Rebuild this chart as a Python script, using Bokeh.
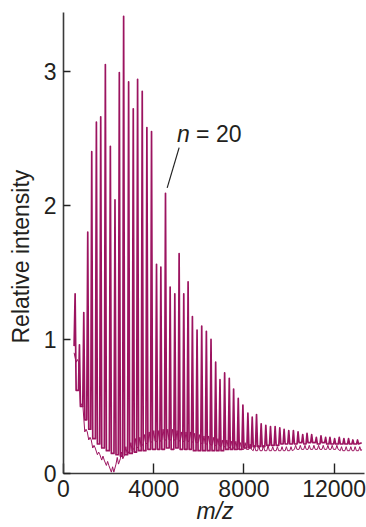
from bokeh.plotting import figure
from bokeh.models import Label, Range1d, FixedTicker, Title
from bokeh.embed import file_html
from bokeh.resources import INLINE

# ---------------- data ----------------
# trace A: oligomer peak positions (m/z), apex heights and valley heights after each peak
peak_mz = [515, 707, 899, 1075, 1252, 1458, 1650, 1856, 2077, 2283,
           2475, 2666, 2887, 3093, 3285, 3491, 3697, 3903, 4124, 4316,
           4522, 4728, 4935, 5126, 5332, 5524, 5715, 5921, 6128, 6334,
           6540, 6746, 6938, 7144, 7350, 7542, 7748, 7954, 8175, 8367,
           8558, 8764, 8970, 9177, 9383, 9589, 9781, 9987, 10193, 10399,
           10606, 10797, 11003, 11210, 11416, 11622, 11813, 12020, 12226, 12432,
           12638, 12830, 13036]
peak_h = [1.34, 0.96, 1.20, 1.80, 2.40, 2.62, 2.66, 3.05, 2.44, 2.04,
          2.99, 3.41, 2.92, 2.72, 2.94, 2.85, 2.58, 2.55, 1.56, 1.54,
          2.09, 1.39, 1.34, 1.64, 1.34, 1.43, 1.17, 1.07, 1.10, 1.06,
          1.00, 0.83, 0.70, 0.75, 0.71, 0.63, 0.56, 0.51, 0.45, 0.42,
          0.44, 0.37, 0.36, 0.35, 0.35, 0.34, 0.33, 0.32, 0.32, 0.31,
          0.29, 0.30, 0.29, 0.27, 0.28, 0.27, 0.27, 0.26, 0.27, 0.26,
          0.26, 0.25, 0.25]
valley_a = [0.62, 0.50, 0.40, 0.33, 0.26, 0.22, 0.19, 0.17, 0.15, 0.14,
            0.13, 0.14, 0.15, 0.16, 0.17, 0.17, 0.18, 0.18, 0.18, 0.18,
            0.19, 0.18, 0.19, 0.18, 0.18, 0.18, 0.17, 0.17, 0.17, 0.17,
            0.17, 0.17, 0.17, 0.18, 0.18, 0.18, 0.18, 0.19, 0.19, 0.20,
            0.20, 0.20, 0.21, 0.21, 0.21, 0.22, 0.22, 0.22, 0.22, 0.23,
            0.22, 0.23, 0.23, 0.22, 0.23, 0.22, 0.22, 0.22, 0.22, 0.22,
            0.22, 0.22, 0.22]
a_start = [470, 0.95]
a_end = [13220, 0.23]

# trace B: lower baseline and small ripple heights at the same oligomer spacing
base_b = [0.83, 0.50, 0.31, 0.25, 0.19, 0.14, 0.10, 0.06, 0.01, 0.07,
          0.11, 0.14, 0.17, 0.19, 0.20, 0.22, 0.23, 0.24, 0.24, 0.25,
          0.25, 0.25, 0.25, 0.24, 0.24, 0.24, 0.23, 0.23, 0.22, 0.22,
          0.21, 0.21, 0.20, 0.20, 0.19, 0.19, 0.18, 0.18, 0.18, 0.17,
          0.17, 0.17, 0.17, 0.17, 0.17, 0.17, 0.17, 0.17, 0.18, 0.18,
          0.18, 0.18, 0.18, 0.18, 0.18, 0.18, 0.18, 0.18, 0.17, 0.17,
          0.17, 0.17, 0.17]
ripple_b = [0.02, 0.02, 0.02, 0.02, 0.02, 0.02, 0.03, 0.03, 0.04, 0.05,
            0.05, 0.06, 0.06, 0.07, 0.07, 0.07, 0.08, 0.08, 0.08, 0.08,
            0.08, 0.08, 0.07, 0.07, 0.07, 0.07, 0.07, 0.06, 0.06, 0.06,
            0.06, 0.05, 0.05, 0.05, 0.05, 0.05, 0.05, 0.05, 0.04, 0.04,
            0.04, 0.04, 0.04, 0.03, 0.03, 0.03, 0.03, 0.03, 0.03, 0.03,
            0.03, 0.03, 0.03, 0.03, 0.03, 0.03, 0.03, 0.03, 0.03, 0.03,
            0.03, 0.03, 0.03]
b_start = [470, 0.90]
b_end = [13220, 0.18]

x_ticks = [0, 4000, 8000, 12000]
y_ticks = [0, 1, 2, 3]
label_index = 20
label_text_n = "n"
label_text_rest = "= 20"
x_title = "m/z"
y_title = "Relative intensity"

# ---------------- build line coordinates ----------------
RISE, FALL = 45, 45
ax, ay = [a_start[0]], [a_start[1]]
prev = a_start[1]
for m, h, v in zip(peak_mz, peak_h, valley_a):
    ax += [m - RISE, m, m + FALL]
    ay += [prev, h, v]
    prev = v
ax.append(a_end[0]); ay.append(a_end[1])

SHIFT, HW = 100, 55
bx, by = [b_start[0]], [b_start[1]]
for m, b, r in zip(peak_mz, base_b, ripple_b):
    c = m + SHIFT
    bx += [c - HW, c, c + HW]
    by += [b, b + r, b]
bx.append(b_end[0]); by.append(b_end[1])

COLOR = "#9c1460"
FONT = "Liberation Sans"
FS = "23px"
TXT = "#231f20"

p = figure(width=366, height=527, output_backend="svg", toolbar_location=None,
           x_range=Range1d(0, 13345), y_range=Range1d(0, 3.438),
           min_border_left=62, min_border_right=2, min_border_top=12,
           min_border_bottom=54)

p.line(bx, by, line_color=COLOR, line_width=1.0, line_join="round")
p.line(ax, ay, line_color=COLOR, line_width=1.7, line_join="round")

# leader line for n = 20
pm, ph = peak_mz[label_index], peak_h[label_index]
p.segment(x0=[pm + 75], y0=[ph + 0.04], x1=[pm + 605], y1=[ph + 0.34],
          line_color="#222222", line_width=1.2)

lab_n = Label(x=pm + 515, y=ph + 0.445, text=label_text_n, text_font=FONT,
              text_font_size=FS, text_font_style="italic", text_color=TXT,
              text_baseline="middle", text_align="left")
lab_r = Label(x=pm + 1355, y=ph + 0.445, text=label_text_rest, text_font=FONT,
              text_font_size=FS, text_color=TXT,
              text_baseline="middle", text_align="left")
p.add_layout(lab_n)
p.add_layout(lab_r)

ytitle = Title(text=y_title, align="left", offset=130, standoff=12,
               text_font=FONT, text_font_size=FS, text_font_style="normal",
               text_color=TXT, vertical_align="middle")
p.add_layout(ytitle, "left")

xtitle = Title(text=x_title, align="left", offset=133, standoff=-4,
               text_font=FONT, text_font_size=FS, text_font_style="italic",
               text_color=TXT, vertical_align="top")
p.add_layout(xtitle, "below")

p.xgrid.grid_line_color = None
p.ygrid.grid_line_color = None
p.outline_line_color = None

p.xaxis.ticker = FixedTicker(ticks=x_ticks)
p.yaxis.ticker = FixedTicker(ticks=y_ticks)
for axis in (p.xaxis, p.yaxis):
    axis.axis_line_color = "#3a3a3a"
    axis.axis_line_width = 1.6
    axis.major_tick_line_color = "#222222"
    axis.major_tick_line_width = 1.4
    axis.minor_tick_line_color = None
    axis.major_tick_out = 0
    axis.major_label_text_font = FONT
    axis.major_label_text_font_size = FS
    axis.major_label_text_color = TXT
p.xaxis.major_tick_in = 10
p.yaxis.major_tick_in = 7
p.xaxis.major_label_standoff = 6
p.yaxis.major_label_standoff = 7

open("out.html", "w").write(file_html(p, INLINE))
